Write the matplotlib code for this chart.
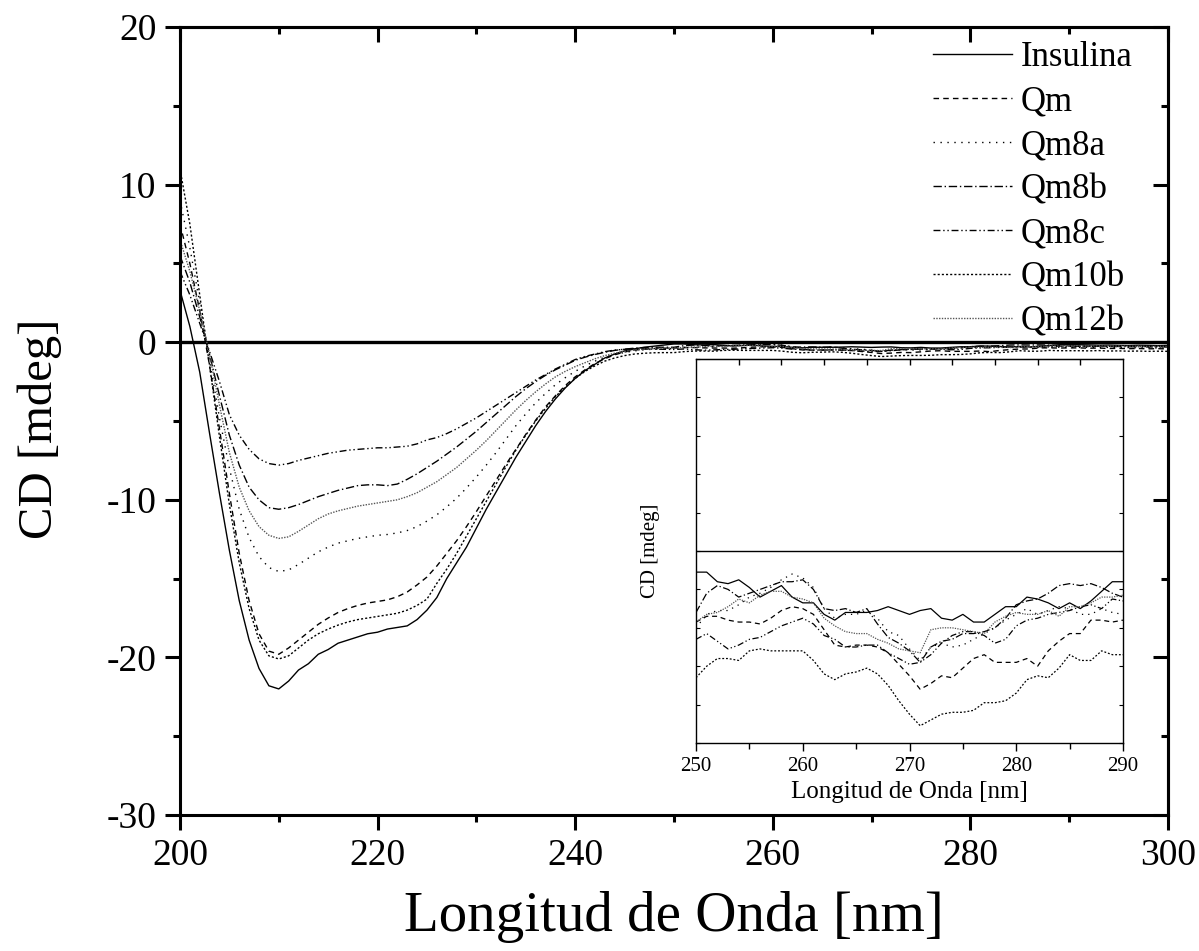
'''
plot.py

CD spectra of insulin and the Qm samples (200 - 300 nm),
with an inset that zooms in on the 250 - 290 nm region.
'''

# import libraries
import matplotlib
matplotlib.use("Agg")
import matplotlib.pyplot as plt
import numpy as np

# wavelengths, 1 nm steps
wavelength = np.arange(200, 301)

# CD signal [mdeg] per sample
insulina = [
    3.3, 1.0, -1.9, -5.8, -9.6, -13.2, -16.4, -18.9, -20.7, -21.8,
    -22.0, -21.5, -20.8, -20.4, -19.8, -19.5, -19.1, -18.9, -18.7, -18.5,
    -18.4, -18.2, -18.1, -18.0, -17.6, -17.0, -16.2, -15.0, -14.0, -13.0,
    -11.8, -10.6, -9.5, -8.4, -7.3, -6.3, -5.3, -4.4, -3.6, -2.9,
    -2.3, -1.8, -1.4, -1.0, -0.75, -0.55, -0.42, -0.32, -0.25, -0.18,
    -0.11, -0.11, -0.16, -0.17, -0.15, -0.19, -0.24, -0.21, -0.18, -0.24,
    -0.27, -0.27, -0.33, -0.36, -0.32, -0.32, -0.32, -0.31, -0.29, -0.31,
    -0.33, -0.31, -0.30, -0.35, -0.36, -0.33, -0.37, -0.37, -0.33, -0.29,
    -0.29, -0.24, -0.25, -0.27, -0.30, -0.27, -0.30, -0.26, -0.21, -0.16,
    -0.16, -0.16, -0.17, -0.19, -0.18, -0.20, -0.21, -0.19, -0.20, -0.22,
    -0.20,
]

qm = [
    7.5, 5.0, 2.0, -1.5, -5.5, -9.6, -13.4, -16.4, -18.5, -19.6,
    -19.8, -19.4, -18.9, -18.4, -17.9, -17.5, -17.15, -16.9, -16.7, -16.55,
    -16.45, -16.35, -16.15, -15.85, -15.4, -14.9, -14.2, -13.4, -12.6, -11.7,
    -10.75, -9.75, -8.75, -7.75, -6.8, -5.85, -4.95, -4.1, -3.4, -2.75,
    -2.2, -1.75, -1.35, -1.05, -0.8, -0.62, -0.5, -0.44, -0.40, -0.38,
    -0.37, -0.34, -0.34, -0.36, -0.37, -0.37, -0.38, -0.35, -0.31, -0.29,
    -0.30, -0.33, -0.41, -0.49, -0.50, -0.49, -0.49, -0.50, -0.53, -0.59,
    -0.65, -0.72, -0.69, -0.65, -0.66, -0.61, -0.56, -0.54, -0.58, -0.58,
    -0.58, -0.56, -0.60, -0.52, -0.47, -0.43, -0.43, -0.36, -0.36, -0.37,
    -0.36, -0.36, -0.38, -0.37, -0.40, -0.39, -0.41, -0.40, -0.42, -0.41,
    -0.43,
]

qm8a = [
    9.0, 6.0, 2.5, -1.2, -4.8, -8.0, -10.6, -12.4, -13.6, -14.3,
    -14.55, -14.45, -14.1, -13.7, -13.3, -13.0, -12.75, -12.6, -12.45, -12.35,
    -12.25, -12.2, -12.1, -11.95, -11.7, -11.35, -10.95, -10.45, -9.9, -9.25,
    -8.55, -7.8, -7.0, -6.15, -5.3, -4.55, -3.85, -3.25, -2.7, -2.25,
    -1.85, -1.5, -1.2, -0.95, -0.78, -0.65, -0.55, -0.48, -0.44, -0.42,
    -0.40, -0.33, -0.31, -0.31, -0.28, -0.24, -0.22, -0.19, -0.15, -0.12,
    -0.14, -0.19, -0.30, -0.35, -0.33, -0.33, -0.31, -0.35, -0.42, -0.44,
    -0.51, -0.57, -0.50, -0.48, -0.50, -0.49, -0.46, -0.43, -0.40, -0.36,
    -0.33, -0.30, -0.33, -0.31, -0.29, -0.30, -0.33, -0.33, -0.30, -0.32,
    -0.33, -0.33, -0.32, -0.34, -0.33, -0.35, -0.34, -0.36, -0.35, -0.37,
    -0.36,
]

qm8b = [
    5.5, 3.8, 1.6, -0.8, -3.4, -5.9, -7.8, -9.2, -10.0, -10.5,
    -10.6, -10.5, -10.3, -10.05, -9.8, -9.6, -9.4, -9.25, -9.1, -9.05,
    -9.05, -9.1, -9.0, -8.7, -8.35, -7.95, -7.55, -7.1, -6.65, -6.15,
    -5.65, -5.1, -4.55, -4.0, -3.45, -2.95, -2.5, -2.1, -1.75, -1.45,
    -1.15, -0.95, -0.78, -0.64, -0.52, -0.44, -0.38, -0.34, -0.32, -0.32,
    -0.32, -0.22, -0.18, -0.20, -0.24, -0.22, -0.20, -0.18, -0.16, -0.16,
    -0.15, -0.20, -0.30, -0.31, -0.30, -0.32, -0.30, -0.38, -0.45, -0.48,
    -0.52, -0.58, -0.50, -0.47, -0.46, -0.43, -0.43, -0.42, -0.40, -0.35,
    -0.28, -0.26, -0.25, -0.22, -0.18, -0.17, -0.18, -0.17, -0.19, -0.22,
    -0.24, -0.24, -0.25, -0.24, -0.26, -0.27, -0.26, -0.28, -0.27, -0.29,
    -0.28,
]

qm8c = [
    4.5, 3.0, 1.2, -0.6, -2.5, -4.6, -5.9, -6.8, -7.4, -7.7,
    -7.8, -7.7, -7.5, -7.35, -7.2, -7.05, -6.95, -6.85, -6.8, -6.75,
    -6.7, -6.7, -6.65, -6.6, -6.45, -6.2, -6.05, -5.8, -5.5, -5.15,
    -4.8, -4.4, -4.0, -3.6, -3.2, -2.8, -2.4, -2.05, -1.7, -1.4,
    -1.1, -0.9, -0.75, -0.6, -0.5, -0.45, -0.42, -0.42, -0.44, -0.45,
    -0.46, -0.43, -0.47, -0.51, -0.49, -0.46, -0.45, -0.42, -0.39, -0.37,
    -0.35, -0.38, -0.44, -0.46, -0.50, -0.50, -0.49, -0.49, -0.53, -0.56,
    -0.59, -0.58, -0.54, -0.48, -0.44, -0.42, -0.42, -0.44, -0.48, -0.46,
    -0.39, -0.36, -0.35, -0.33, -0.32, -0.31, -0.29, -0.28, -0.30, -0.25,
    -0.26, -0.26, -0.27, -0.26, -0.28, -0.27, -0.29, -0.28, -0.30, -0.29,
    -0.30,
]

qm10b = [
    11.0, 7.5, 3.0, -1.5, -6.0, -10.3, -14.0, -16.9, -18.9, -19.9,
    -20.1, -19.9, -19.4, -18.9, -18.5, -18.2, -17.95, -17.75, -17.6, -17.5,
    -17.4, -17.3, -17.2, -17.0, -16.7, -16.3, -15.3, -14.4, -13.4, -12.3,
    -11.2, -10.1, -9.0, -7.9, -6.85, -5.9, -5.0, -4.2, -3.45, -2.85,
    -2.3, -1.85, -1.5, -1.2, -1.0, -0.85, -0.75, -0.7, -0.67, -0.66,
    -0.66, -0.60, -0.56, -0.56, -0.57, -0.52, -0.51, -0.52, -0.52, -0.52,
    -0.52, -0.57, -0.64, -0.67, -0.64, -0.63, -0.61, -0.64, -0.70, -0.78,
    -0.85, -0.91, -0.88, -0.85, -0.84, -0.84, -0.83, -0.79, -0.79, -0.78,
    -0.74, -0.67, -0.65, -0.66, -0.61, -0.54, -0.57, -0.57, -0.52, -0.54,
    -0.54, -0.54, -0.55, -0.53, -0.56, -0.55, -0.57, -0.56, -0.58, -0.57,
    -0.58,
]

qm12b = [
    6.5, 4.5, 2.0, -0.8, -4.0, -7.0, -9.2, -10.7, -11.7, -12.25,
    -12.45, -12.35, -12.0, -11.6, -11.2, -10.9, -10.7, -10.55, -10.4, -10.3,
    -10.2, -10.1, -10.0, -9.8, -9.55, -9.2, -8.85, -8.4, -7.95, -7.4,
    -6.85, -6.25, -5.6, -4.95, -4.3, -3.7, -3.15, -2.65, -2.2, -1.85,
    -1.55, -1.3, -1.05, -0.85, -0.7, -0.58, -0.5, -0.44, -0.4, -0.38,
    -0.37, -0.33, -0.32, -0.29, -0.25, -0.27, -0.23, -0.21, -0.21, -0.24,
    -0.25, -0.27, -0.35, -0.39, -0.42, -0.43, -0.43, -0.46, -0.48, -0.51,
    -0.52, -0.53, -0.41, -0.40, -0.40, -0.41, -0.42, -0.43, -0.37, -0.34,
    -0.32, -0.33, -0.33, -0.31, -0.34, -0.29, -0.29, -0.27, -0.24, -0.24,
    -0.23, -0.23, -0.24, -0.23, -0.25, -0.24, -0.26, -0.25, -0.27, -0.26,
    -0.27,
]

labels = ["Insulina", "Qm", "Qm8a", "Qm8b", "Qm8c", "Qm10b", "Qm12b"]

# line style per sample (black & white plot)
styles = [
    ("black", "-"),
    ("black", (0, (4, 3))),
    ("black", (0, (1, 4))),
    ("black", (0, (6, 2, 1, 2))),
    ("black", (0, (5, 2, 1, 2, 1, 2))),
    ("black", (0, (1.5, 1.5))),
    ("#555555", (0, (1, 1))),
]


def style_main(ax):
    ax.set_xlim(200, 300)
    ax.set_ylim(-30, 20)
    ax.set_xticks(range(200, 301, 20))
    ax.set_xticks(range(210, 300, 20), minor=True)
    ax.set_yticks(range(-30, 21, 10))
    ax.set_yticks(range(-25, 20, 10), minor=True)
    for spine in ax.spines.values():
        spine.set_linewidth(2.2)
    ax.tick_params(which="major", direction="out", length=11, width=2.2, labelsize=27, pad=6)
    ax.tick_params(which="minor", direction="out", length=5, width=2.2)

    # top and right ticks point inwards
    top = ax.secondary_xaxis("top")
    top.set_xticks(range(200, 301, 20))
    top.set_xticks(range(210, 300, 20), minor=True)
    top.tick_params(which="major", direction="in", length=11, width=2.2, labeltop=False)
    top.tick_params(which="minor", direction="in", length=5, width=2.2)
    top.spines["top"].set_linewidth(2.2)
    right = ax.secondary_yaxis("right")
    right.set_yticks(range(-30, 21, 10))
    right.set_yticks(range(-25, 20, 10), minor=True)
    right.tick_params(which="major", direction="in", length=11, width=2.2, labelright=False)
    right.tick_params(which="minor", direction="in", length=5, width=2.2)
    right.spines["right"].set_linewidth(2.2)

    ax.set_xlabel("Longitud de Onda [nm]", fontsize=41)
    ax.set_ylabel("CD [mdeg]", fontsize=35)
    ax.xaxis.set_label_coords(0.5, -0.097)
    ax.yaxis.set_label_coords(-0.119, 0.49)


def style_inset(ax):
    ax.set_xlim(250, 290)
    ax.set_ylim(-1, 1)
    ax.set_xticks(range(250, 291, 10))
    ax.set_xticks(range(255, 290, 10), minor=True)
    ax.set_yticks(np.linspace(-1, 1, 11))
    ax.set_yticklabels([])
    for spine in ax.spines.values():
        spine.set_linewidth(1.0)
    ax.tick_params(axis="x", which="major", direction="out", length=6, width=1, labelsize=15, pad=4)
    ax.tick_params(axis="x", which="minor", direction="out", length=4, width=1)
    ax.tick_params(axis="y", which="major", direction="in", length=3, width=0.8, right=True)

    top = ax.secondary_xaxis("top")
    top.set_xticks(range(254, 290, 4))
    top.tick_params(direction="in", length=4, width=1, labeltop=False)

    ax.set_xlabel("Longitud de Onda [nm]", fontsize=18)
    ax.set_ylabel("CD [mdeg]", fontsize=15)
    ax.xaxis.set_label_coords(0.5, -0.1)
    ax.yaxis.set_label_coords(-0.085, 0.5)


def main():
    plt.rcParams["font.family"] = ["Liberation Serif", "DejaVu Serif"]
    plt.rcParams["axes.unicode_minus"] = False

    series = [insulina, qm, qm8a, qm8b, qm8c, qm10b, qm12b]

    fig = plt.figure(figsize=(11.99, 9.51), dpi=100)
    ax = fig.add_axes([0.1501, 0.143, 0.824, 0.8286])

    # baseline at 0 mdeg
    ax.axhline(0, color="black", lw=2.4, zorder=1)
    for values, label, (color, ls) in zip(series, labels, styles):
        ax.plot(wavelength, values, color=color, ls=ls, lw=1.0, label=label)
    style_main(ax)

    ax.legend(loc="upper right", bbox_to_anchor=(0.978, 1.0), frameon=False, fontsize=25,
              handlelength=2.3, handletextpad=0.23, labelspacing=0.32, borderaxespad=0.0)

    # inset with the 250 - 290 nm region
    inset = fig.add_axes([0.5805, 0.2187, 0.3561, 0.4038])
    inset.axhline(0, color="black", lw=1.0)
    mask = (wavelength >= 250) & (wavelength <= 290)
    for values, (color, ls) in zip(series, styles):
        inset.plot(wavelength[mask], np.array(values)[mask], color=color, ls=ls, lw=0.9)
    style_inset(inset)

    fig.savefig("out.png", dpi=100)


if __name__ == "__main__":
    main()
